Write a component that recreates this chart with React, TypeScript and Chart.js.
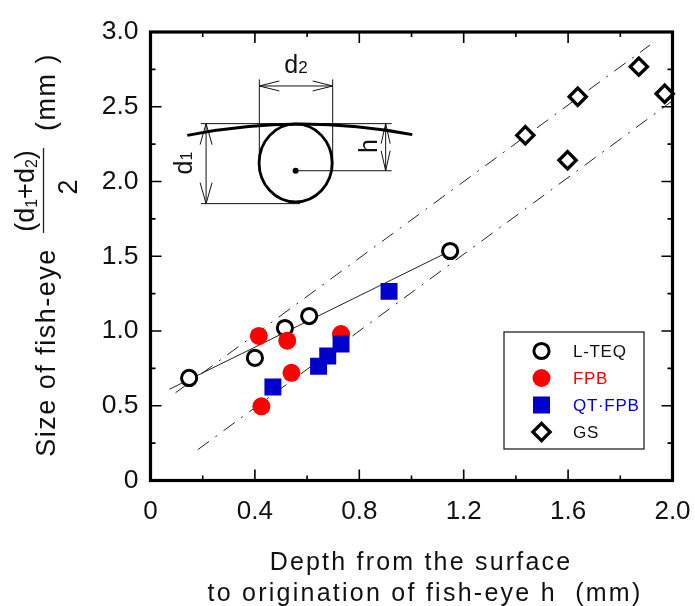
import React, { useEffect, useRef } from "react";
import { Chart, registerables } from "chart.js";

Chart.register(...registerables);

const FONT = '"Liberation Sans", Arial, sans-serif';

const lteqX = [0.148, 0.4, 0.515, 0.608, 1.148];
const lteqY = [0.686, 0.82, 1.02, 1.1, 1.535];
const fpbX = [0.415, 0.524, 0.54, 0.425, 0.73];
const fpbY = [0.967, 0.935, 0.72, 0.496, 0.98];
const qtX = [0.469, 0.644, 0.679, 0.73, 0.914];
const qtY = [0.625, 0.764, 0.833, 0.913, 1.265];
const gsX = [1.436, 1.598, 1.637, 1.871, 1.97];
const gsY = [2.309, 2.142, 2.567, 2.768, 2.587];

const fitSolidX = [0.072, 1.148];
const fitSolidY = [0.61, 1.535];
const upperX = [0.096, 1.914];
const upperY = [0.587, 2.913];
const lowerX = [0.181, 2.0];
const lowerY = [0.206, 2.54];

const xMajor = [0, 0.4, 0.8, 1.2, 1.6, 2.0];
const xMinor = [0.2, 0.6, 1.0, 1.4, 1.8];
const yMajor = [0, 0.5, 1.0, 1.5, 2.0, 2.5, 3.0];
const yMinor = [0.25, 0.75, 1.25, 1.75, 2.25, 2.75];

const xTitleLines = ["Depth from the surface", "to origination of fish-eye h  (mm)"];
const legendNames = ["L-TEQ", "FPB", "QT\u00B7FPB", "GS"];
const legendColors = ["#111111", "#ff0000", "#0000cc", "#111111"];

const zip = (xs: number[], ys: number[]) => xs.map((x, i) => ({ x, y: ys[i] }));

type Seg = { t: string; size: number; dy?: number };

function drawSegs(ctx: any, cx: number, cy: number, rot: number, segs: Seg[], spacing = 0) {
  ctx.save();
  ctx.translate(cx, cy);
  ctx.rotate(rot);
  ctx.fillStyle = "#111";
  ctx.textBaseline = "alphabetic";
  ctx.textAlign = "left";
  ctx.letterSpacing = `${spacing}px`;
  let w = 0;
  for (const s of segs) {
    ctx.font = `${s.size}px ${FONT}`;
    w += ctx.measureText(s.t).width;
  }
  let x = -w / 2;
  for (const s of segs) {
    ctx.font = `${s.size}px ${FONT}`;
    ctx.fillText(s.t, x, s.dy ?? 0);
    x += ctx.measureText(s.t).width;
  }
  ctx.restore();
}

function arrow(ctx: any, x: number, y: number, dx: number, dy: number, len: number, half: number) {
  const px = -dy, py = dx;
  ctx.beginPath();
  ctx.moveTo(x - dx * len + px * half, y - dy * len + py * half);
  ctx.lineTo(x, y);
  ctx.lineTo(x - dx * len - px * half, y - dy * len - py * half);
  ctx.stroke();
}

const framePlugin = {
  id: "frame",
  beforeDatasetsDraw(chart: any) {
    const { ctx, chartArea: a, scales: { x, y } } = chart;
    ctx.save();
    ctx.strokeStyle = "#000";
    ctx.lineWidth = 1.6;
    const tick = (vals: number[], horiz: boolean, len: number) => {
      ctx.beginPath();
      for (const v of vals) {
        if (horiz) {
          const p = x.getPixelForValue(v);
          ctx.moveTo(p, a.bottom); ctx.lineTo(p, a.bottom - len);
          ctx.moveTo(p, a.top); ctx.lineTo(p, a.top + len);
        } else {
          const p = y.getPixelForValue(v);
          ctx.moveTo(a.left, p); ctx.lineTo(a.left + len, p);
          ctx.moveTo(a.right, p); ctx.lineTo(a.right - len, p);
        }
      }
      ctx.stroke();
    };
    tick(xMajor, true, 11);
    tick(xMinor, true, 5);
    tick(yMajor, false, 11);
    tick(yMinor, false, 5);
    ctx.lineWidth = 3.2;
    ctx.strokeRect(a.left, a.top, a.right - a.left, a.bottom - a.top);
    ctx.restore();
  },
  afterDatasetsDraw(chart: any) {
    const { ctx, scales: { x, y } } = chart;
    const X = (v: number) => x.getPixelForValue(v);
    const Y = (v: number) => y.getPixelForValue(v);
    ctx.save();
    // Inset schematic
    ctx.strokeStyle = "#111";
    ctx.lineWidth = 1;
    const seg = (x1: number, y1: number, x2: number, y2: number) => {
      ctx.beginPath();
      ctx.moveTo(X(x1), Y(y1));
      ctx.lineTo(X(x2), Y(y2));
      ctx.stroke();
    };
    seg(0.193, 2.387, 0.924, 2.387);
    seg(0.417, 2.683, 0.417, 2.077);
    seg(0.698, 2.683, 0.698, 2.077);
    seg(0.417, 2.639, 0.698, 2.639);
    seg(0.213, 2.387, 0.213, 1.852);
    seg(0.193, 1.852, 0.573, 1.852);
    seg(0.901, 2.387, 0.901, 2.072);
    seg(0.556, 2.072, 0.924, 2.072);
    arrow(ctx, X(0.417), Y(2.639), -1, 0, 20, 5);
    arrow(ctx, X(0.698), Y(2.639), 1, 0, 20, 5);
    arrow(ctx, X(0.213), Y(2.387), 0, -1, 21, 6);
    arrow(ctx, X(0.213), Y(1.852), 0, 1, 21, 6);
    arrow(ctx, X(0.901), Y(2.387), 0, -1, 20, 4.5);
    arrow(ctx, X(0.901), Y(2.072), 0, 1, 20, 4.5);
    ctx.lineWidth = 2.8;
    ctx.strokeStyle = "#000";
    ctx.beginPath();
    ctx.moveTo(X(0.141), Y(2.309));
    ctx.quadraticCurveTo(X(0.572), Y(2.458), X(1.003), Y(2.313));
    ctx.stroke();
    ctx.beginPath();
    ctx.ellipse(X(0.556), Y(2.124), 0.14 * 261, 0.261 * 149.5, 0, 0, Math.PI * 2);
    ctx.stroke();
    ctx.fillStyle = "#000";
    ctx.beginPath();
    ctx.arc(X(0.556), Y(2.072), 3, 0, Math.PI * 2);
    ctx.fill();
    drawSegs(ctx, 296, 73, 0, [{ t: "d", size: 25 }, { t: "2", size: 17 }]);
    drawSegs(ctx, 192, 163, -Math.PI / 2, [{ t: "d", size: 25 }, { t: "1", size: 16 }]);
    drawSegs(ctx, 377, 146, -Math.PI / 2, [{ t: "h", size: 25 }]);

    // Legend box
    ctx.fillStyle = "#fff";
    ctx.fillRect(504, 332, 140, 117);
    ctx.strokeStyle = "#222";
    ctx.lineWidth = 1.3;
    ctx.strokeRect(504, 332, 140, 117);
    const rows = [351, 378, 405, 432];
    const lx = 541.5;
    ctx.strokeStyle = "#000";
    ctx.lineWidth = 3;
    ctx.beginPath(); ctx.arc(lx, rows[0], 7.6, 0, Math.PI * 2); ctx.stroke();
    ctx.fillStyle = "#ff0000";
    ctx.beginPath(); ctx.arc(lx, rows[1], 9, 0, Math.PI * 2); ctx.fill();
    ctx.fillStyle = "#0000cc";
    ctx.fillRect(lx - 8.5, rows[2] - 8.5, 17, 17);
    ctx.lineWidth = 3.3;
    ctx.beginPath();
    ctx.moveTo(lx, rows[3] - 8.6); ctx.lineTo(lx + 8.6, rows[3]);
    ctx.lineTo(lx, rows[3] + 8.6); ctx.lineTo(lx - 8.6, rows[3]); ctx.closePath();
    ctx.stroke();
    ctx.font = `17px ${FONT}`;
    ctx.letterSpacing = "0.7px";
    ctx.textBaseline = "middle";
    ctx.textAlign = "left";
    legendNames.forEach((n, i) => {
      ctx.fillStyle = legendColors[i];
      ctx.fillText(n, 573, rows[i] + 1);
    });
    ctx.letterSpacing = "0px";

    // Y axis title with the fraction
    const r = -Math.PI / 2;
    drawSegs(ctx, 55, 352.5, r, [{ t: "Size of fish-eye", size: 27 }], 1.5);
    drawSegs(ctx, 34, 191, r, [
      { t: "(d", size: 27 }, { t: "1", size: 16, dy: 3 }, { t: "+d", size: 27 },
      { t: "2", size: 16, dy: 3 }, { t: ")", size: 27 },
    ]);
    ctx.strokeStyle = "#222";
    ctx.lineWidth = 1.3;
    ctx.beginPath(); ctx.moveTo(43.5, 233); ctx.lineTo(43.5, 148); ctx.stroke();
    drawSegs(ctx, 77, 187, r, [{ t: "2", size: 27 }]);
    drawSegs(ctx, 55, 92, r, [{ t: "(mm )", size: 27 }], 1.5);

    // X axis title
    drawSegs(ctx, 421, 570, 0, [{ t: xTitleLines[0], size: 25 }], 2.2);
    drawSegs(ctx, 425, 601, 0, [{ t: xTitleLines[1], size: 25 }], 2.25);
    ctx.restore();
  },
};

export default function App() {
  const ref = useRef<HTMLCanvasElement | null>(null);
  useEffect(() => {
    const line = (xs: number[], ys: number[], dash: number[], label: string) => ({
      type: "scatter" as const,
      label,
      data: zip(xs, ys),
      showLine: true,
      borderColor: "#222",
      borderWidth: 1,
      borderDash: dash,
      pointRadius: 0,
      order: 10,
    });
    const chart = new Chart(ref.current as HTMLCanvasElement, {
      type: "scatter",
      data: {
        datasets: [
          line(fitSolidX, fitSolidY, [], "fit L-TEQ"),
          line(upperX, upperY, [14, 8, 2, 8], "upper bound"),
          line(lowerX, lowerY, [14, 8, 2, 8], "lower bound"),
          { label: "L-TEQ", data: zip(lteqX, lteqY), pointStyle: "circle", pointRadius: 7.6, pointBorderWidth: 3, pointBorderColor: "#000", pointBackgroundColor: "#fff", order: 4 },
          { label: "FPB", data: zip(fpbX, fpbY), pointStyle: "circle", pointRadius: 9, pointBorderWidth: 0, pointBackgroundColor: "#ff0000", order: 3 },
          { label: "QT\u00B7FPB", data: zip(qtX, qtY), pointStyle: "rect", pointRadius: 12, pointBorderWidth: 0, pointBackgroundColor: "#0000cc", order: 2 },
          { label: "GS", data: zip(gsX, gsY), pointStyle: "rectRot", pointRadius: 8.6, pointBorderWidth: 3.3, pointBorderColor: "#000", pointBackgroundColor: "#fff", order: 1, clip: false },
        ] as any,
      },
      options: {
        animation: false,
        responsive: false,
        layout: { padding: { top: 32, right: 22.5, left: 0, bottom: 0 } },
        plugins: { legend: { display: false }, tooltip: { enabled: false } },
        scales: {
          x: {
            type: "linear", min: 0, max: 2,
            afterFit: (s: any) => { s.height = 125.5; s.paddingLeft = 0; s.paddingRight = 0; },
            afterBuildTicks: (s: any) => { s.ticks = xMajor.map((value) => ({ value })); },
            grid: { display: false },
            border: { display: false },
            ticks: {
              padding: 8, color: "#111", maxRotation: 0, autoSkip: false,
              font: { family: FONT, size: 26 },
              callback: (v: any) => (v === 0 ? "0" : Number(v).toFixed(1)),
            },
          },
          y: {
            type: "linear", min: 0, max: 3,
            afterFit: (s: any) => { s.width = 150.5; s.paddingTop = 0; s.paddingBottom = 0; },
            afterBuildTicks: (s: any) => { s.ticks = yMajor.map((value) => ({ value })); },
            grid: { display: false },
            border: { display: false },
            ticks: {
              padding: 4, color: "#111", autoSkip: false,
              font: { family: FONT, size: 26.5 },
              callback: (v: any) => (v === 0 ? "0" : Number(v).toFixed(1)),
            },
          },
        },
      } as any,
      plugins: [framePlugin],
    });
    return () => chart.destroy();
  }, []);
  return (
    <div style={{ position: "fixed", left: 0, top: 0, width: 695, height: 606, background: "#fff" }}>
      <canvas ref={ref} width={695} height={606} style={{ display: "block", width: 695, height: 606 }} />
    </div>
  );
}
